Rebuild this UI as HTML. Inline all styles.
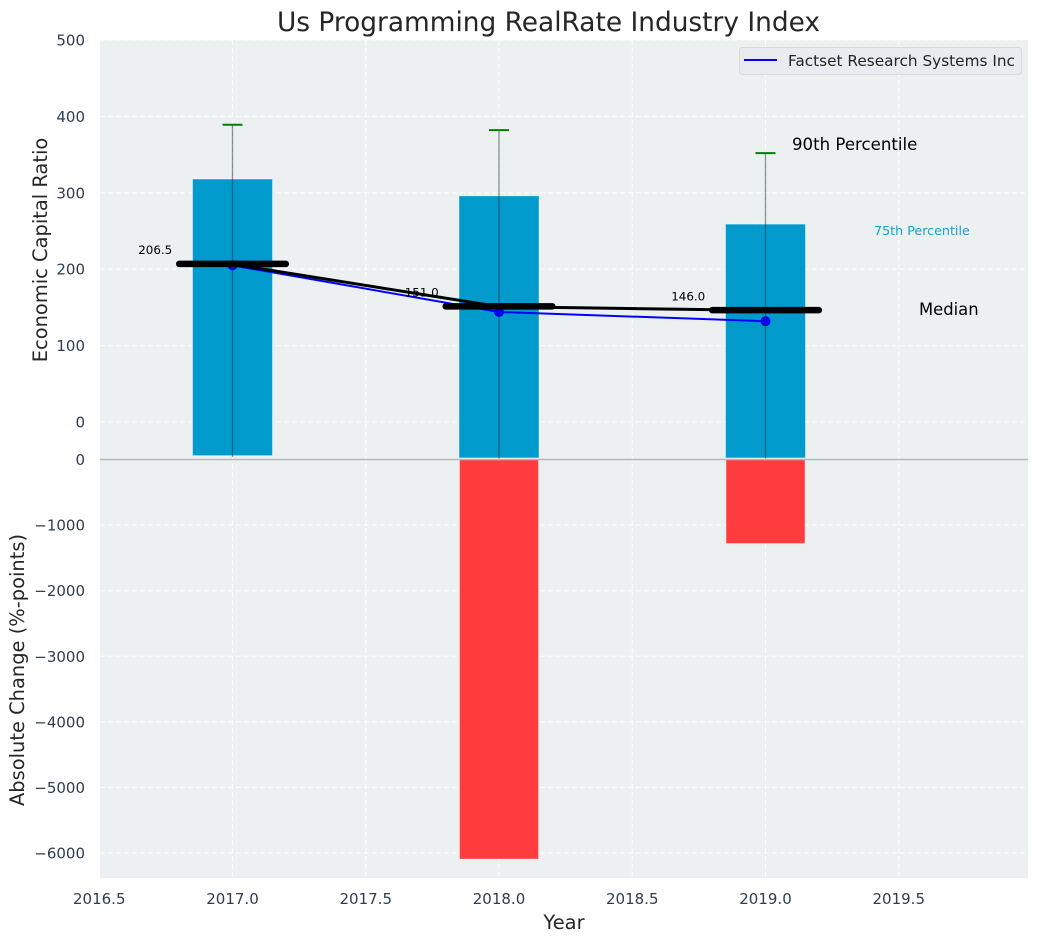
<!DOCTYPE html>
<html>
<head>
<meta charset="utf-8">
<title>Us Programming RealRate Industry Index</title>
<style>
html,body{margin:0;padding:0;background:#fff;width:1039px;height:942px;overflow:hidden}
svg{display:block;font-family:"DejaVu Sans","Liberation Sans",sans-serif}
</style>
</head>
<body>
<svg id="chart" xmlns="http://www.w3.org/2000/svg" width="1039" height="942" viewBox="0 0 1039 942">
  <text x="548.5" y="31" font-size="26.4" fill="#262626" text-anchor="middle">Us Programming RealRate Industry Index</text>
  <text transform="translate(47,250) rotate(-90)" font-size="19.44" fill="#262626" text-anchor="middle">Economic Capital Ratio</text>
  <text transform="translate(24,670) rotate(-90)" font-size="19.44" fill="#262626" text-anchor="middle">Absolute Change (%-points)</text>
  <text x="564" y="929" font-size="19.44" fill="#262626" text-anchor="middle">Year</text>
  <g id="layer"></g>
  <text x="792" y="150" font-size="16.6" fill="#000">90th Percentile</text>
  <text x="874" y="235" font-size="12.7" fill="#1a9fcf">75th Percentile</text>
  <text x="919" y="315" font-size="16.4" fill="#000">Median</text>
  <g>
    <rect x="739.5" y="47.5" width="282" height="27" rx="3" fill="#e9ebf0" stroke="#d6d9dd"/>
    <line x1="744" x2="777" y1="60" y2="60" stroke="#0000ff" stroke-width="2"/>
    <text x="788" y="66" font-size="15.3" fill="#262626">Factset Research Systems Inc</text>
  </g>
</svg>
<script>
const years = [2017, 2018, 2019];
const p75 = [318, 296, 259];
const p90 = [389, 382, 352];
const medians = [206.5, 151.0, 146.0];
const company = [205, 144, 132];
const absChange = [0, -6090, -1280];
const lowerBound = [-44, -47, -47];
const whiskerBase = [-46, -48, -48];
const xTicks = [2016.5, 2017.0, 2017.5, 2018.0, 2018.5, 2019.0, 2019.5];
const topTicks = [0, 100, 200, 300, 400, 500];
const bottomTicks = [0, -1000, -2000, -3000, -4000, -5000, -6000];

const plotLeft = 100, plotRight = 1028, plotTop = 40, plotMid = 459.5, plotBottom = 878;
const barHalf = 0.15, medianHalf = 0.2, capPx = 10;

function xScale(v) { return 232.5 + (v - 2017) * 266.5; }
function yTop(v) { return 422 - v * 0.764; }
function yBottom(v) { return 459.5 - v * 0.0656; }

const layer = document.getElementById('layer');
function add(tag, attrs, text) {
  const el = document.createElementNS('http://www.w3.org/2000/svg', tag);
  for (const k in attrs) el.setAttribute(k, attrs[k]);
  if (text !== undefined) el.textContent = text;
  layer.appendChild(el);
  return el;
}
let n;

n = add('rect', {x: plotLeft, y: plotTop, width: plotRight - plotLeft, height: plotBottom - plotTop, fill: '#ecf0f1'});



const gridStyle = {stroke: '#ffffff', 'stroke-width': 1, 'stroke-dasharray': '5 3', 'stroke-opacity': 0.9};
xTicks.forEach(function (t) {
  const g = add('line', Object.assign({x1: xScale(t), x2: xScale(t), y1: plotTop, y2: plotBottom}, gridStyle));
  
  
  const l = add('text', {x: xScale(t), y: 904, 'font-size': 15, fill: '#2c3e50', 'text-anchor': 'middle'}, t.toFixed(1));
  
  
});
topTicks.forEach(function (t) {
  const g = add('line', Object.assign({x1: plotLeft, x2: plotRight, y1: yTop(t), y2: yTop(t)}, gridStyle));
  
  
  const l = add('text', {x: 85, y: yTop(t) + 5.5, 'font-size': 15, fill: '#2c3e50', 'text-anchor': 'end'}, String(t));
  
  
});
bottomTicks.forEach(function (t) {
  const g = add('line', Object.assign({x1: plotLeft, x2: plotRight, y1: yBottom(t), y2: yBottom(t)}, gridStyle));
  
  
  const l = add('text', {x: 85, y: yBottom(t) + 5.5, 'font-size': 15, fill: '#2c3e50', 'text-anchor': 'end'}, String(t).replace('-', '\u2212'));
  
  
});

years.forEach(function (yr, i) {
  const x0 = xScale(yr - barHalf), x1 = xScale(yr + barHalf);
  const b = add('rect', {x: x0, y: yTop(p75[i]), width: x1 - x0, height: yTop(lowerBound[i]) - yTop(p75[i]), fill: '#009bcc', stroke: '#ffffff', 'stroke-opacity': 0.4, 'stroke-width': 1});
  
  
  if (absChange[i] !== 0) {
    const r = add('rect', {x: x0 + 0.5, y: yBottom(0), width: x1 - x0 - 1, height: yBottom(absChange[i]) - yBottom(0), fill: '#ff3d3f', stroke: '#ffffff', 'stroke-opacity': 0.35, 'stroke-width': 1});
    
    
  }
});

n = add('line', {x1: plotLeft, x2: plotRight, y1: plotMid, y2: plotMid, stroke: '#b6b9ba', 'stroke-width': 1.4});



n = add('polyline', {points: years.map(function (y, i) { return xScale(y) + ',' + yTop(company[i]); }).join(' '), fill: 'none', stroke: '#0000ff', 'stroke-width': 2});



years.forEach(function (yr, i) {
  const m = add('circle', {cx: xScale(yr), cy: yTop(company[i]), r: 5, fill: '#0000ff'});
  
  
});

n = add('polyline', {points: years.map(function (y, i) { return xScale(y) + ',' + yTop(medians[i]); }).join(' '), fill: 'none', stroke: '#000000', 'stroke-width': 3});



years.forEach(function (yr, i) {
  const w = add('line', {x1: xScale(yr), x2: xScale(yr), y1: yTop(p90[i]), y2: yTop(whiskerBase[i]), stroke: '#1c2c33', 'stroke-opacity': 0.5, 'stroke-width': 1.3});
  
  
  const c = add('line', {x1: xScale(yr) - capPx, x2: xScale(yr) + capPx, y1: yTop(p90[i]), y2: yTop(p90[i]), stroke: '#008000', 'stroke-width': 2});
  
  
  const md = add('line', {x1: xScale(yr - medianHalf), x2: xScale(yr + medianHalf), y1: yTop(medians[i]) - 0.3, y2: yTop(medians[i]) - 0.3, stroke: '#000000', 'stroke-width': 6.5, 'stroke-linecap': 'round'});
  
  
  const t = add('text', {x: xScale(yr - 0.29), y: yTop(medians[i]) - 10, 'font-size': 11.9, fill: '#000000', 'text-anchor': 'middle'}, medians[i].toFixed(1));
  
  
});
</script>
</body>
</html>
